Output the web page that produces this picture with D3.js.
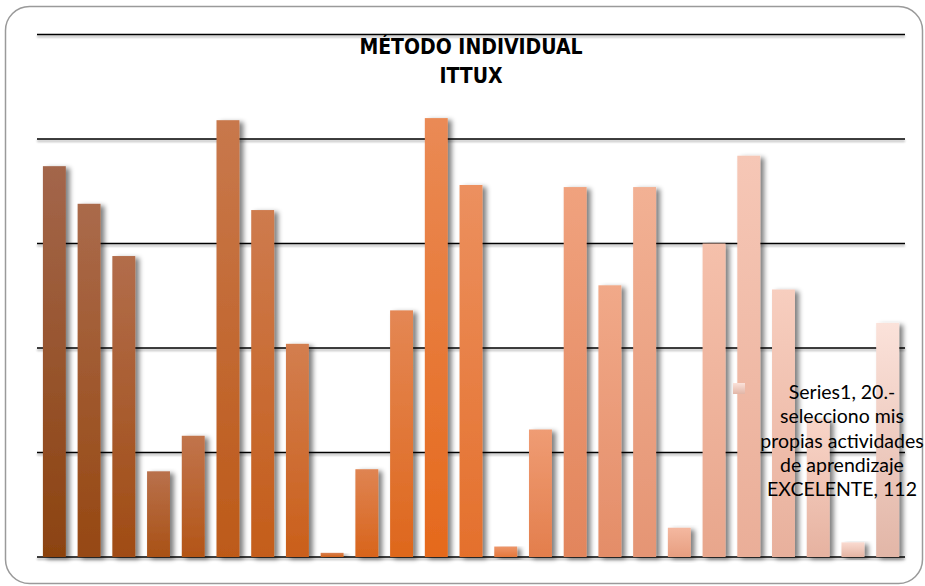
<!DOCTYPE html>
<html>
<head>
<meta charset="utf-8">
<script src="https://cdn.jsdelivr.net/npm/d3@7"></script>
<style>
  html, body { margin: 0; padding: 0; background: #fff; }
  svg { display: block; }
</style>
</head>
<body>
<script>
// Survey answers, one bar per item
const categories = d3.range(1, 26).map(i => "P" + i);
const values = [187, 169, 144, 41, 58, 209, 166, 102, 2, 42, 118, 210, 178, 5, 61, 177, 130, 177, 14, 150, 192, 128, 66, 7, 112];
const yTicks = [0, 50, 100, 150, 200, 250];
const titleLines = ["MÉTODO INDIVIDUAL", "ITTUX"];
const labelLines = ["Series1, 20.-", "selecciono mis", "propias actividades", "de aprendizaje", "EXCELENTE, 112"];

const W = 925, H = 586;
const svg = d3.select("body").append("svg").attr("width", W).attr("height", H);
const defs = svg.append("defs");

// soft drop shadow for bars
const sh = defs.append("filter").attr("id", "shadow")
  .attr("x", "-30%").attr("y", "-10%").attr("width", "180%").attr("height", "130%");
sh.append("feGaussianBlur").attr("in", "SourceAlpha").attr("stdDeviation", 2.4).attr("result", "b");
sh.append("feOffset").attr("in", "b").attr("dx", 3.5).attr("dy", 1.5).attr("result", "o");
sh.append("feComponentTransfer").attr("in", "o").attr("result", "s")
  .append("feFuncA").attr("type", "linear").attr("slope", 0.5);
const m = sh.append("feMerge");
m.append("feMergeNode").attr("in", "s");
m.append("feMergeNode").attr("in", "SourceGraphic");

// thin shadow for grid lines (user-space region, lines have no height)
const gsh = defs.append("filter").attr("id", "gshadow")
  .attr("filterUnits", "userSpaceOnUse")
  .attr("x", 0).attr("y", 0).attr("width", W).attr("height", H);
gsh.append("feGaussianBlur").attr("in", "SourceAlpha").attr("stdDeviation", 0.8).attr("result", "b");
gsh.append("feOffset").attr("in", "b").attr("dx", 0).attr("dy", 1.5).attr("result", "o");
gsh.append("feComponentTransfer").attr("in", "o").attr("result", "s")
  .append("feFuncA").attr("type", "linear").attr("slope", 0.35);
const gm = gsh.append("feMerge");
gm.append("feMergeNode").attr("in", "s");
gm.append("feMergeNode").attr("in", "SourceGraphic");

// chart frame
svg.append("rect")
  .attr("x", 5.5).attr("y", 6.5).attr("width", 917).attr("height", 577)
  .attr("rx", 24).attr("ry", 24)
  .attr("fill", "#fff").attr("stroke", "#9a9a9a").attr("stroke-width", 1.5);

const x = d3.scaleBand().domain(categories).range([37, 905]).paddingInner(0.34).paddingOuter(0.17);
const y = d3.scaleLinear().domain([0, 250]).range([557, 34.5]);

// per-bar colours: lighter tint at the top, deeper shade at the bottom
const topColor = d3.scaleLinear().domain([0, 5, 11, 15, 20, 24])
  .range(["#a3664b", "#c8784c", "#ea8a55", "#f0a27e", "#f6c7b6", "#fbe2da"])
  .interpolate(d3.interpolateRgb);
const botColor = d3.scaleLinear().domain([0, 5, 11, 15, 20, 24])
  .range(["#8c4310", "#bd5a19", "#e5691c", "#e2855c", "#eaae98", "#e2b6a7"])
  .interpolate(d3.interpolateRgb);

categories.forEach((c, i) => {
  const g = defs.append("linearGradient").attr("id", "grad" + i)
    .attr("x1", 0).attr("y1", 0).attr("x2", 0).attr("y2", 1);
  g.append("stop").attr("offset", "0%").attr("stop-color", topColor(i));
  g.append("stop").attr("offset", "100%").attr("stop-color", botColor(i));
});

// horizontal grid lines
svg.append("g").attr("filter", "url(#gshadow)")
  .selectAll("line").data(yTicks).join("line")
  .attr("x1", 37).attr("x2", 905)
  .attr("y1", d => y(d)).attr("y2", d => y(d))
  .attr("stroke", "#000").attr("stroke-width", 1.6);

// bars
svg.append("g").selectAll("rect").data(values).join("rect")
  .attr("x", (d, i) => x(categories[i]))
  .attr("width", x.bandwidth())
  .attr("y", d => y(d))
  .attr("height", d => y(0) - y(d))
  .attr("fill", (d, i) => "url(#grad" + i + ")")
  .attr("filter", "url(#shadow)");

// title
svg.append("g").selectAll("text").data(titleLines).join("text")
  .attr("x", 471).attr("y", (d, i) => 54 + i * 29)
  .attr("text-anchor", "middle")
  .attr("font-family", "'Liberation Sans Narrow', 'DejaVu Sans Condensed', sans-serif")
  .attr("font-weight", "bold")
  .attr("font-size", 21)
  .attr("fill", "#000")
  .text(d => d);

// data label for the last item, with its legend key
const lastIdx = values.length - 1;
svg.append("rect")
  .attr("x", 733).attr("y", 383).attr("width", 12).attr("height", 11)
  .attr("fill", "url(#grad" + lastIdx + ")");

svg.append("g").selectAll("text").data(labelLines).join("text")
  .attr("x", 842).attr("y", (d, i) => 399 + i * 24.3)
  .attr("text-anchor", "middle")
  .attr("font-family", "Lato, 'Open Sans', sans-serif")
  .attr("font-size", 19.5)
  .attr("fill", "#000")
  .text(d => d);
</script>
</body>
</html>
